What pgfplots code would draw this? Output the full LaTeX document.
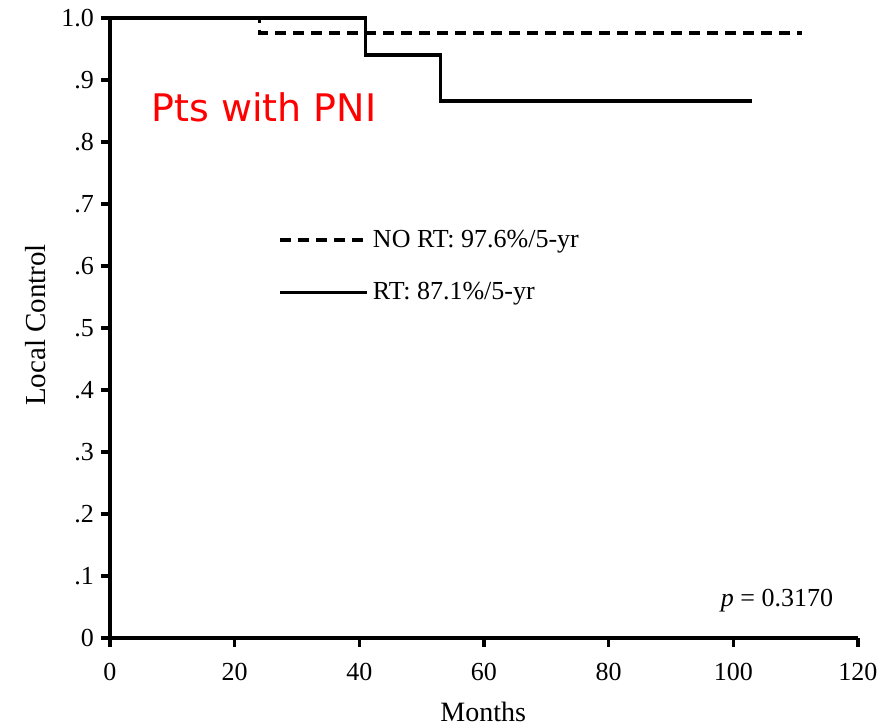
\documentclass[border=0pt]{standalone}
\usepackage{pgfplots}
\pgfplotsset{compat=1.18}
\usepackage{fontspec}
\setmainfont{Liberation Serif}
\newfontfamily\comicfont{DejaVu Sans}
\begin{document}
\begin{tikzpicture}[x=1pt,y=1pt]
\path[use as bounding box] (-55,-44.5) rectangle (387.5,319);
\begin{axis}[
  at={(0,0)}, anchor=south west,
  scale only axis, width=374pt, height=310pt,
  xmin=0, xmax=120, ymin=0, ymax=1,
  axis lines=left,
  axis line style={-, line width=1.8pt},
  clip=false,
  xtick={0,20,40,60,80,100,120},
  xticklabels={0,20,40,60,80,100,120},
  ytick={0,0.1,0.2,0.3,0.4,0.5,0.6,0.7,0.8,0.9,1.0},
  yticklabels={0,.1,.2,.3,.4,.5,.6,.7,.8,.9,1.0},
  tick align=outside,
  major tick length=4.5pt,
  tick style={line width=1.8pt, black},
  ticklabel style={font=\fontsize{13}{15}\selectfont},
  xticklabel style={yshift=-4.5pt},
  /pgf/number format/assume math mode=true,
  xlabel={Months},
  ylabel={Local Control},
  xlabel style={font=\fontsize{14}{16}\selectfont, at={(axis description cs:0.499,-0.12)}, anchor=center},
  ylabel style={font=\fontsize{14.5}{16}\selectfont, at={(axis description cs:-0.1,0.505)}, anchor=center, rotate=0},
  legend style={draw=none, fill=none, at={(axis description cs:0.2246,0.665)}, anchor=north west,
    font=\fontsize{13}{15}\selectfont, row sep=12pt, inner sep=0pt,
    /tikz/every odd column/.style={column sep=0pt}},
  legend cell align=left,
  legend image code/.code={\draw[#1, line width=1.8pt] (0pt,0pt) -- (43.5pt,0pt);},
]
\addplot[const plot, black, line width=1.8pt, dash pattern=on 5.5pt off 3.5pt] coordinates {(0,1) (24,0.976) (111,0.976)};
\addlegendentry{NO RT: 97.6\%/5-yr}
\addplot[const plot, black, line width=1.8pt] coordinates {(0,1) (41,0.94) (53,0.866) (103,0.866)};
\addlegendentry{RT: 87.1\%/5-yr}
\node[anchor=center, text=red, font=\comicfont\fontsize{19}{22}\selectfont] at (axis cs:24.7,0.856) {Pts with PNI};
\node[anchor=center, font=\fontsize{13}{15}\selectfont] at (axis cs:107,0.061) {\textit{p} = 0.3170};
\end{axis}
\end{tikzpicture}
\end{document}
